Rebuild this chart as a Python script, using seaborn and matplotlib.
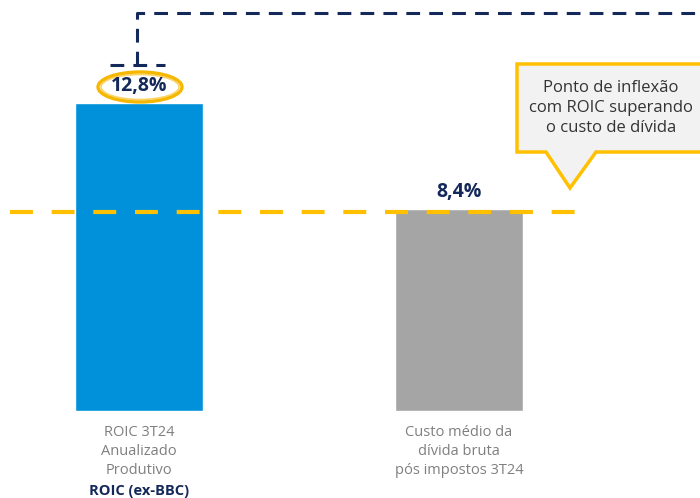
import matplotlib
matplotlib.use('Agg')
import matplotlib.pyplot as plt
from matplotlib.patches import Polygon, Ellipse
import seaborn as sns
import pandas as pd

# dados do gráfico
categorias = ['ROIC', 'Custo']
valores = [12.8, 8.4]
rotulos_valor = ['12,8%', '8,4%']
rotulos_cat = ['ROIC 3T24\nAnualizado\nProdutivo', 'Custo médio da\ndívida bruta\npós impostos 3T24']
cores = ['#0091DA', '#A5A5A5']
texto_balao = 'Ponto de inflexão\ncom ROIC superando\no custo de dívida'

NAVY = '#14295A'
AMARELO = '#FFC000'

sns.set_theme(style='white')
plt.rcParams['font.family'] = ['Open Sans', 'DejaVu Sans']

W, H = 700, 498
fig = plt.figure(figsize=(W / 100, H / 100), dpi=100)
ax = fig.add_axes([0, 0, 1, 1])

df = pd.DataFrame({'cat': categorias, 'valor': valores})
sns.barplot(data=df, x='cat', y='valor', hue='cat', palette=cores,
            width=0.4, legend=False, ax=ax, saturation=1)

# escala: baseline em y=411 px, ~24 px por ponto percentual
ppu = 308 / 12.8
ax.set_xlim(-139 / 320, -139 / 320 + W / 320)
ax.set_ylim(-(H - 411) / ppu, 411 / ppu)
ax.set_axis_off()


def fx(px):
    return px / W


def fy(py):
    return 1 - py / H


# linha tracejada amarela no nível do custo da dívida
ax.plot([fx(10), fx(582)], [fy(212), fy(212)], transform=fig.transFigure,
        color=AMARELO, lw=3.0, dashes=(5.5, 4.5), solid_capstyle='butt',
        dash_capstyle='butt', zorder=3)

# rótulos de valor
for i, (v, r) in enumerate(zip(valores, rotulos_valor)):
    ax.text(i, v + 17 / ppu, r, ha='center', va='center', fontsize=14,
            fontweight='bold', color=NAVY, zorder=5)

# elipse em volta do ROIC
for w, h, lw, a in [(84, 30, 2.4, 1.0), (78, 25, 1.2, 0.6)]:
    ax.add_patch(Ellipse((fx(140), fy(87)), fx(w), h / H, fill=False,
                         edgecolor='#F6B700', lw=lw, alpha=a,
                         transform=fig.transFigure, zorder=4))

# conector tracejado azul-marinho
kw = dict(color=NAVY, lw=2.2, dashes=(4.5, 3), transform=fig.transFigure,
          dash_capstyle='butt', zorder=3)
ax.plot([fx(110), fx(165)], [fy(65), fy(65)], **kw)
ax.plot([fx(137), fx(137), fx(702)], [fy(65), fy(13), fy(13)], **kw)

# balão
pts = [(517, 64), (705, 64), (705, 152), (596, 152), (570, 188), (546, 152), (517, 152)]
ax.add_patch(Polygon([(fx(x), fy(y)) for x, y in pts], closed=True,
                     facecolor='#F2F2F2', edgecolor=AMARELO, lw=2.5,
                     transform=fig.transFigure, zorder=4, joinstyle='miter'))
ax.text(fx(611), fy(108), texto_balao, transform=fig.transFigure,
        ha='center', va='center', fontsize=12, color='#333333',
        linespacing=1.3, zorder=5)

# rótulos das categorias
for i, r in enumerate(rotulos_cat):
    ax.text(i, -(425 - 411) / ppu, r, ha='center', va='top', fontsize=10.5,
            color='#7F7F7F', linespacing=1.38)
ax.text(0, -(484 - 411) / ppu, 'ROIC (ex-BBC)', ha='center', va='top',
        fontsize=10.5, fontweight='bold', color=NAVY)

fig.savefig('out.png', dpi=100)
